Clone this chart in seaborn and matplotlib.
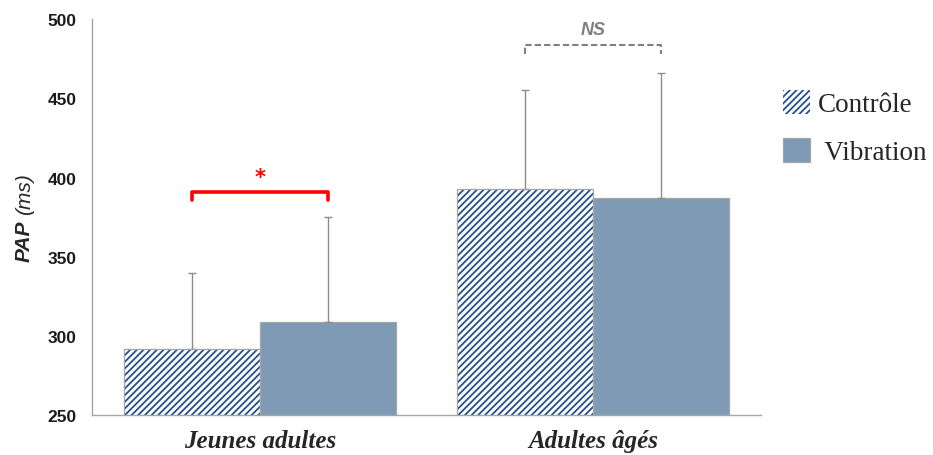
import matplotlib
matplotlib.use("Agg")
import matplotlib.pyplot as plt
import seaborn as sns
import pandas as pd
from matplotlib.patches import Patch, Rectangle

# valeurs
groupes = ["Jeunes adultes", "Adultes âgés"]
conditions = ["Contrôle", "Vibration"]
moy_controle = [292, 393]
moy_vibration = [309, 387]
et_controle = [48, 62]
et_vibration = [66, 79]
# crochets de significativite : hauteur et label par groupe
crochet_y = [391, 484]
crochet_txt = ["*", "NS"]

BLEU_HACH = "#22508A"
BLEU_VIB = "#7F9AB4"
GRIS = "#A6A6A6"

df = pd.DataFrame({
    "groupe": groupes * 2,
    "condition": [conditions[0]] * 2 + [conditions[1]] * 2,
    "pap": moy_controle + moy_vibration,
})
erreurs = {conditions[0]: et_controle, conditions[1]: et_vibration}

sns.set_style("white")
plt.rcParams["hatch.linewidth"] = 1.3

fig = plt.figure(figsize=(9.33, 4.56), dpi=100)
ax = fig.add_axes([0.0986, 0.0877, 0.717, 0.868])

sns.barplot(data=df, x="groupe", y="pap", hue="condition", order=groupes,
            hue_order=conditions, palette=["white", BLEU_VIB], width=0.815,
            saturation=1, errorbar=None, legend=False, ax=ax)

centres = {}
for cont, cond in zip(ax.containers, conditions):
    xs = []
    for bar in cont.patches:
        if cond == conditions[0]:
            bar.set_facecolor("white")
            bar.set_edgecolor(BLEU_HACH)
            bar.set_hatch("/////")
            bar.set_linewidth(0)
            # contour gris par-dessus
            ax.add_patch(Rectangle(bar.get_xy(), bar.get_width(), bar.get_height(),
                                   fill=False, edgecolor=GRIS, linewidth=0.9, zorder=3))
        else:
            bar.set_edgecolor(GRIS)
            bar.set_linewidth(0.9)
        xs.append(bar.get_x() + bar.get_width() / 2)
    centres[cond] = xs
    hauts = [b.get_height() for b in cont.patches]
    ax.errorbar(xs, hauts, yerr=[[0] * len(hauts), erreurs[cond]], fmt="none",
                ecolor="#8C8C8C", elinewidth=1, capsize=3, capthick=1, zorder=1)

# crochets
for i in range(len(groupes)):
    x1, x2 = centres[conditions[0]][i], centres[conditions[1]][i]
    y = crochet_y[i]
    if crochet_txt[i] == "*":
        ax.plot([x1, x1, x2, x2], [y - 5, y, y, y - 5], color="#FF0000", lw=2.6,
                solid_joinstyle="round", clip_on=False)
        ax.text((x1 + x2) / 2, y + 3, "*", color="#FF0000", ha="center", va="bottom",
                fontsize=15, fontweight="bold", family="DejaVu Sans")
    else:
        ax.plot([x1, x1, x2, x2], [y - 6, y, y, y - 6], color="#808080", lw=1.5,
                ls=(0, (3, 1.5)), clip_on=False)
        ax.text((x1 + x2) / 2, y + 4, "NS", color="#7F7F7F", ha="center", va="bottom",
                fontsize=13, fontweight="bold", fontstyle="italic", family="Liberation Sans")

ax.set_ylim(250, 500)
ax.set_xlim(-0.503, 1.503)
ax.set_yticks(range(250, 501, 50))
ax.tick_params(axis="y", direction="out", length=5, color=GRIS, width=1,
               labelsize=12.5, pad=6)
for t in ax.get_yticklabels():
    t.set_fontweight("bold")
    t.set_family("Liberation Sans")
    t.set_color("#1A1A1A")

ax.set_xticks([0, 1])
ax.set_xticklabels(groupes, fontsize=18, fontweight="bold", fontstyle="italic",
                   family="Liberation Serif")
ax.tick_params(axis="x", length=0, pad=10)
ax.set_xticks([-0.5, 0.5, 1.5], minor=True)
ax.tick_params(axis="x", which="minor", direction="out", length=4, color=GRIS, width=1)
ax.set_xlabel("")
ax.set_ylabel("")

for s in ["top", "right"]:
    ax.spines[s].set_visible(False)
for s in ["left", "bottom"]:
    ax.spines[s].set_color(GRIS)
    ax.spines[s].set_linewidth(1)

# titre de l'axe y en deux morceaux
fig.text(0.026, (456 - 262) / 456, "PAP", rotation=90, ha="center", va="bottom",
         fontsize=15, fontweight="bold", fontstyle="italic", family="Liberation Sans")
fig.text(0.026, (456 - 215) / 456, "(ms)", rotation=90, ha="center", va="bottom",
         fontsize=15, fontstyle="italic", family="Liberation Sans")

poignees = [Patch(facecolor="white", edgecolor=BLEU_HACH, hatch="/////", linewidth=0),
            Patch(facecolor=BLEU_VIB, edgecolor=GRIS, linewidth=0.9)]
leg = fig.legend(poignees, ["Contrôle", " Vibration"], loc="center left",
                 bbox_to_anchor=(0.839, 0.718), frameon=False,
                 prop={"family": "Liberation Serif", "size": 19.5},
                 handlelength=1.0, handleheight=1.0, handletextpad=0.3,
                 labelspacing=0.75, borderpad=0, borderaxespad=0)

fig.savefig("out.png", dpi=100)
